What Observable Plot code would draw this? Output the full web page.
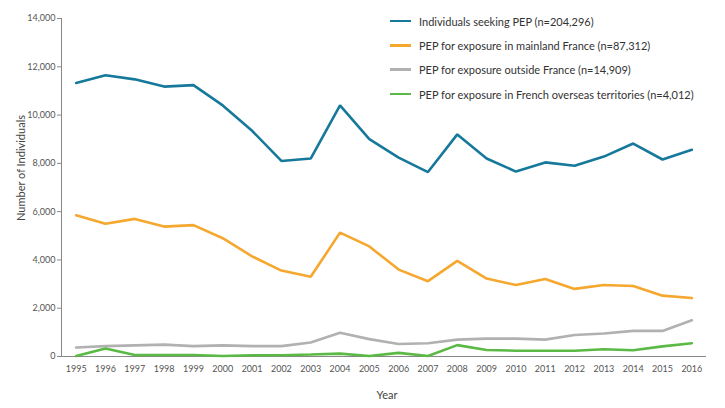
<!DOCTYPE html>
<html>
<head>
<meta charset="utf-8">
<script src="https://cdn.jsdelivr.net/npm/d3@7"></script>
<script src="https://cdn.jsdelivr.net/npm/@observablehq/plot@0.6"></script>
<style>
  html, body { margin: 0; padding: 0; background: #fff; }
  #wrap { position: relative; width: 725px; height: 408px; font-family: Lato, "Open Sans", sans-serif; }
  #legend { position: absolute; left: 390px; top: 9px; font-size: 11px; color: #333; }
  .row { display: flex; align-items: center; height: 24.3px; }
  .sw { width: 21px; height: 2.5px; margin-right: 8px; }
  #ytitle { position: absolute; left: 20px; top: 168px; font-size: 11px; color: #444; white-space: nowrap;
            transform: translate(-50%, -50%) rotate(-90deg); }
</style>
</head>
<body>
<div id="wrap"><div id="legend"></div><div id="ytitle">Number of Individuals</div></div>
<script>
const years = [1995,1996,1997,1998,1999,2000,2001,2002,2003,2004,2005,2006,2007,2008,2009,2010,2011,2012,2013,2014,2015,2016];
const seriesNames = [
  "Individuals seeking PEP (n=204,296)",
  "PEP for exposure in mainland France (n=87,312)",
  "PEP for exposure outside France (n=14,909)",
  "PEP for exposure in French overseas territories (n=4,012)"
];
const seriesColors = ["#16799b", "#f5a72e", "#b1b1b1", "#5bb946"];
const individuals = [11330,11650,11480,11180,11240,10400,9350,8100,8200,10400,9000,8240,7640,9200,8200,7660,8040,7900,8280,8820,8160,8560];
const mainland = [5850,5500,5700,5380,5440,4900,4150,3560,3300,5130,4560,3600,3120,3960,3230,2960,3210,2800,2960,2920,2520,2420];
const outside = [370,430,460,490,430,460,430,430,580,980,720,520,550,700,740,740,700,890,950,1060,1060,1500];
const overseas = [20,330,60,60,60,20,50,50,80,120,20,150,20,470,270,240,240,240,300,260,420,550];
const yTicks = [0,2000,4000,6000,8000,10000,12000,14000];

const allSeries = [individuals, mainland, outside, overseas];
const data = [];
allSeries.forEach((vals, s) => vals.forEach((v, i) => data.push({year: years[i], value: v, series: seriesNames[s]})));

const chart = Plot.plot({
  width: 725,
  height: 408,
  marginLeft: 61,
  marginRight: 19,
  marginTop: 18,
  marginBottom: 52,
  style: {fontFamily: "Lato, 'Open Sans', sans-serif", fontSize: "9px", color: "#444"},
  x: {domain: [1994.5, 2016.5], axis: null},
  y: {domain: [0, 14000], axis: null},
  color: {domain: seriesNames, range: seriesColors},
  marks: [
    Plot.axisY({ticks: yTicks, tickFormat: d3.format(","), tickSize: 4, tickPadding: 2, stroke: "#888", fill: "#555", fontSize: 9, label: null}),
    Plot.axisX({ticks: years, tickFormat: d => String(d), tickSize: 0, tickPadding: 9, fill: "#555", fontSize: 9, label: null}),
    Plot.ruleX([1994.5], {stroke: "#888", strokeWidth: 1}),
    Plot.ruleY([0], {stroke: "#888", strokeWidth: 1}),
    Plot.line(data, {x: "year", y: "value", z: "series", stroke: "series", strokeWidth: 2.6, strokeLinejoin: "miter"}),
    Plot.text(["Year"], {frameAnchor: "bottom", dx: 3, dy: 42, fontSize: 11, fill: "#444"})
  ]
});
const wrap = document.getElementById("wrap");
wrap.insertBefore(chart, wrap.firstChild);

const legend = document.getElementById("legend");
seriesNames.forEach((name, i) => {
  const row = document.createElement("div");
  row.className = "row";
  const sw = document.createElement("div");
  sw.className = "sw";
  sw.style.background = seriesColors[i];
  const t = document.createElement("span");
  t.textContent = name;
  row.appendChild(sw);
  row.appendChild(t);
  legend.appendChild(row);
});
</script>
</body>
</html>
